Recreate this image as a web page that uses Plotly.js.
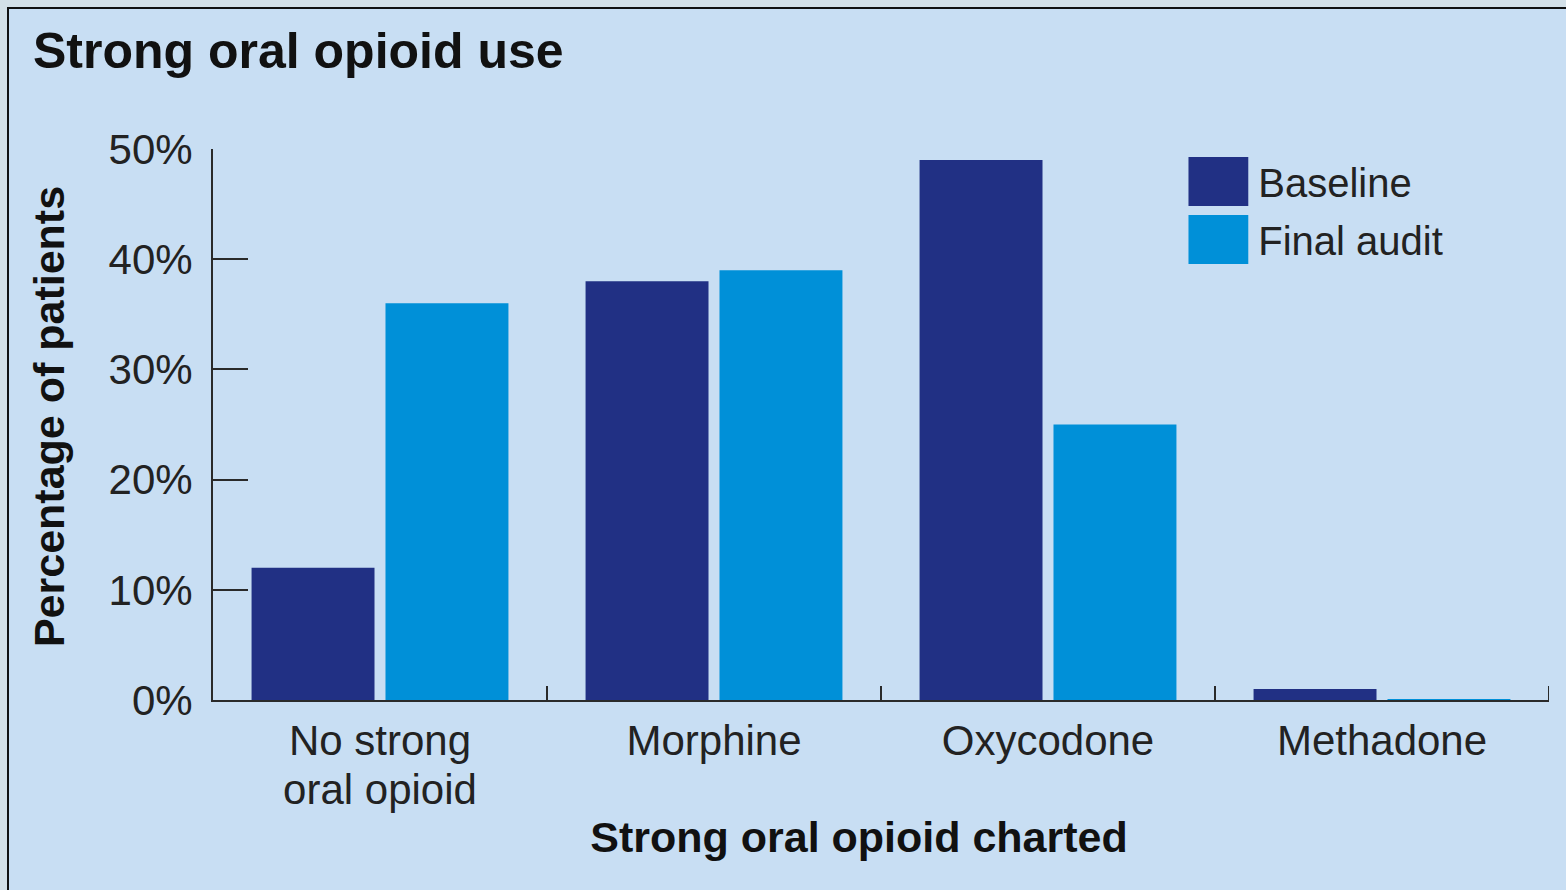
<!DOCTYPE html>
<html>
<head>
<meta charset="utf-8">
<script src="https://cdn.plot.ly/plotly-3.0.1.min.js"></script>
<style>
  html, body { margin: 0; padding: 0; width: 1566px; height: 890px; overflow: hidden; background: #d3e0e8; }
  #frame { position: absolute; left: 7px; top: 7px; width: 1557px; height: 881px; border-left: 2px solid #111; border-top: 2px solid #111; background: #c8def3; }
  #chart { width: 1557px; height: 881px; }
</style>
</head>
<body>
<div id="frame"><div id="chart"></div></div>
<script>
const categories = ['No strong<br>oral opioid', 'Morphine', 'Oxycodone', 'Methadone'];
const baselineValues = [12, 38, 49, 1];
const finalAuditValues = [36, 39, 25, 0.1];
const yTickVals = [0, 10, 20, 30, 40, 50];
const yTickText = ['0%', '10%', '20%', '30%', '40%', '50%'];

const baseColor = '#213084';
const finalColor = '#0090d8';
const textFont = 'Liberation Sans, Arial, sans-serif';

const traces = [
  { type: 'bar', name: 'Baseline', x: categories, y: baselineValues, legendgroup: 'a',
    marker: { color: baseColor, line: { width: 0 } }, hoverinfo: 'none' },
  { type: 'bar', name: 'Final audit', x: categories, y: finalAuditValues, legendgroup: 'b',
    marker: { color: finalColor, line: { width: 0 } }, hoverinfo: 'none' }
];

const layout = {
  width: 1557, height: 881,
  paper_bgcolor: '#c8def3', plot_bgcolor: '#c8def3',
  margin: { l: 204, r: 17, t: 140, b: 190 },
  barmode: 'group', bargap: 0.198, bargroupgap: 0.082,
  title: { text: 'Strong oral opioid use', x: 24 / 1557, xref: 'container', xanchor: 'left',
           y: 1 - 41 / 881, yref: 'container', yanchor: 'middle',
           font: { family: textFont, size: 50, weight: 'bold', color: '#111' } },
  xaxis: {
    type: 'category', range: [-0.5, 3.5], tickson: 'boundaries',
    ticks: 'inside', ticklen: 14, tickwidth: 2, tickcolor: '#2a2a2a',
    showline: true, linecolor: '#2a2a2a', linewidth: 2, layer: 'below traces',
    showgrid: false, zeroline: false, ticklabelstandoff: 3,
    tickfont: { family: textFont, size: 42, color: '#222' },
    title: { text: 'Strong oral opioid charted', standoff: 14,
             font: { family: textFont, size: 43, weight: 'bold', color: '#111' } }
  },
  yaxis: {
    range: [0, 50], tickvals: yTickVals, ticktext: yTickText,
    ticks: 'inside', ticklen: 35, tickwidth: 2, tickcolor: '#2a2a2a',
    showline: true, linecolor: '#2a2a2a', linewidth: 2,
    showgrid: false, zeroline: false, ticklabelstandoff: 10,
    tickfont: { family: textFont, size: 42, color: '#222' },
    title: { text: 'Percentage of patients', standoff: 30,
             font: { family: textFont, size: 43, weight: 'bold', color: '#111' } }
  },
  shapes: [
    { type: 'line', xref: 'x', yref: 'paper', x0: 3.5, x1: 3.5, y0: 0, y1: 14 / 551,
      line: { color: '#2a2a2a', width: 2 } }
  ],
  legend: { x: 0.73, xanchor: 'left', y: 1, yanchor: 'top', bgcolor: 'rgba(0,0,0,0)',
            font: { family: textFont, size: 40, color: '#222' }, itemwidth: 60, tracegroupgap: 3 },
  showlegend: true
};

Plotly.newPlot('chart', traces, layout, { displayModeBar: false, staticPlot: true }).then(function () {
  document.querySelectorAll('.legend .legendpoints path').forEach(function (p) {
    p.setAttribute('transform', 'translate(30,0) scale(5,4.1)');
  });
  document.querySelectorAll('.xtick text').forEach(function (t) {
    var lines = t.querySelectorAll('tspan.line');
    for (var j = 1; j < lines.length; j++) { lines[j].setAttribute('dy', '1.15em'); }
  });
  var xt = document.querySelector('.g-xtitle');
  if (xt) { xt.setAttribute('transform', 'translate(-22,-10)'); }
  var yt = document.querySelector('.g-ytitle');
  if (yt) { yt.setAttribute('transform', 'translate(0,-8)'); }
});
</script>
</body>
</html>
